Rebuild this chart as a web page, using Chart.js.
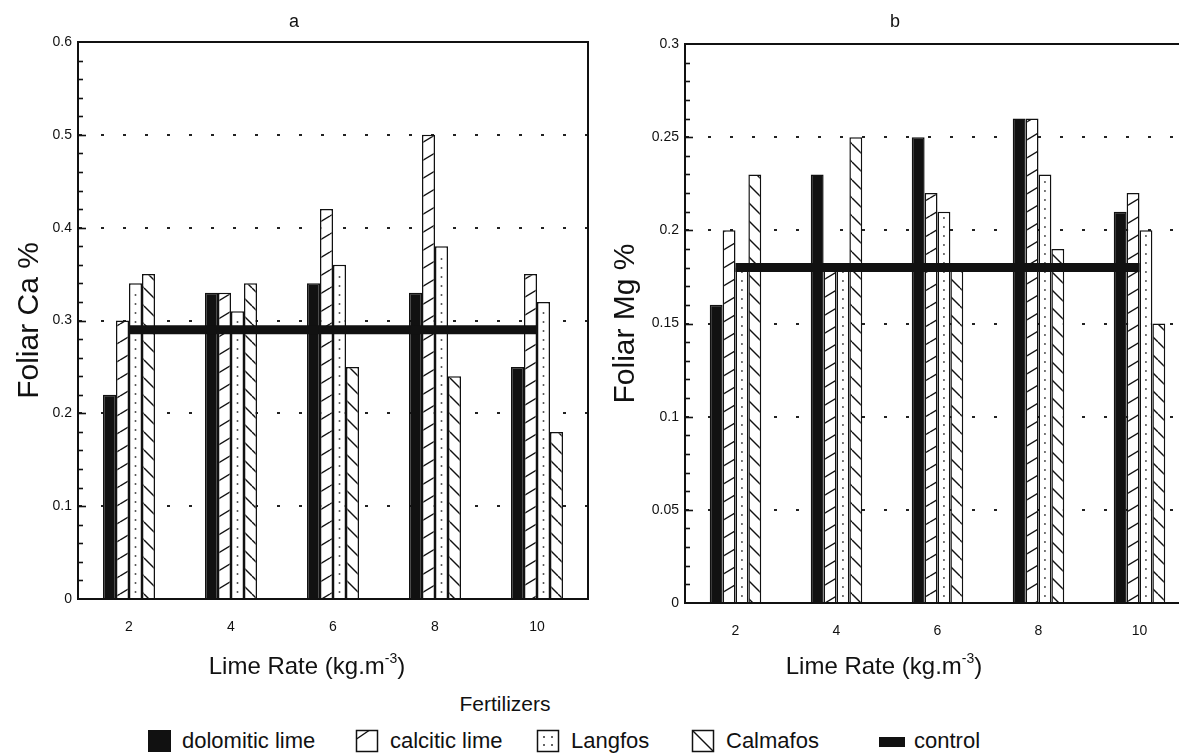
<!DOCTYPE html>
<html>
<head>
<meta charset="utf-8">
<title>Foliar Ca and Mg by lime rate</title>
<script src="https://cdn.jsdelivr.net/npm/chart.js"></script>
<style>
  body { margin: 0; width: 1179px; height: 756px; overflow: hidden; background: #fff; position: relative;
         font-family: "Liberation Sans", Arial, sans-serif; color: #111; }
  canvas.chart { position: absolute; top: 0; }
  #chartCa { left: 0; }
  #chartMg { left: 600px; }
  #legendTitle { position: absolute; top: 692px; left: 440px; width: 130px; text-align: center; font-size: 21px; }
  .item { position: absolute; top: 728px; display: flex; align-items: center; font-size: 22px; white-space: nowrap; }
  .item canvas { margin-right: 9px; }
  .item:nth-of-type(1) { left: 147px; }
  .item:nth-of-type(2) { left: 355px; }
  .item:nth-of-type(3) { left: 536px; }
  .item:nth-of-type(4) { left: 691px; }
  .item:nth-of-type(5) { left: 879px; }
</style>
</head>
<body>
<canvas id="chartCa" class="chart" width="600" height="690"></canvas>
<canvas id="chartMg" class="chart" width="600" height="690"></canvas>
<div id="legendTitle">Fertilizers</div>
<div id="legend"></div>
<script>
// lime rates (kg/m3) on the x axis
const limeRates = ['2', '4', '6', '8', '10'];

// foliar Ca %
const caDolomitic = [0.22, 0.33, 0.34, 0.33, 0.25];
const caCalcitic = [0.30, 0.33, 0.42, 0.50, 0.35];
const caLangfos = [0.34, 0.31, 0.36, 0.38, 0.32];
const caCalmafos = [0.35, 0.34, 0.25, 0.24, 0.18];
const caControl = 0.29;
const caTicks = [0, 0.1, 0.2, 0.3, 0.4, 0.5, 0.6];

// foliar Mg %
const mgDolomitic = [0.16, 0.23, 0.25, 0.26, 0.21];
const mgCalcitic = [0.20, 0.18, 0.22, 0.26, 0.22];
const mgLangfos = [0.18, 0.18, 0.21, 0.23, 0.20];
const mgCalmafos = [0.23, 0.25, 0.18, 0.19, 0.15];
const mgControl = 0.18;
const mgTicks = [0, 0.05, 0.1, 0.15, 0.2, 0.25, 0.3];

const fertilizers = ['dolomitic lime', 'calcitic lime', 'Langfos', 'Calmafos', 'control'];

const INK = '#111';
const FONT = '"Liberation Sans", Arial, sans-serif';

// diagonal hatch; dir 1 = "/", dir -1 = "\"
function hatch(w, h, dir) {
    const c = document.createElement('canvas');
    c.width = w; c.height = h;
    const g = c.getContext('2d');
    g.fillStyle = '#fff';
    g.fillRect(0, 0, w, h);
    g.strokeStyle = INK;
    g.lineWidth = 1.4;
    for (let k = -1; k <= 1; k++) {
        g.beginPath();
        if (dir > 0) { g.moveTo(0, h + k * h); g.lineTo(w, k * h); }
        else { g.moveTo(0, k * h); g.lineTo(w, h + k * h); }
        g.stroke();
    }
    return g.createPattern(c, 'repeat');
}

const calciticFill = hatch(30, 18, 1);
const calmafosFill = hatch(18, 18, -1);

// dotted column down the middle of each Langfos bar
const langfosDots = {
    id: 'langfosDots',
    afterDatasetDraw(chart, args) {
        if (chart.data.datasets[args.index].label !== 'Langfos') return;
        const ctx = chart.ctx;
        ctx.save();
        ctx.fillStyle = '#333';
        args.meta.data.forEach(bar => {
            const p = bar.getProps(['x', 'y', 'base'], true);
            for (let py = p.base - 6; py > p.y + 4; py -= 9) {
                ctx.fillRect(p.x - 0.8, py - 0.8, 1.6, 1.6);
            }
        });
        ctx.restore();
    }
};

// box frame plus inward major/minor ticks on the value axis
const frame = {
    id: 'frame',
    afterDraw(chart, args, opts) {
        const ctx = chart.ctx, a = chart.chartArea, y = chart.scales.y;
        ctx.save();
        ctx.strokeStyle = INK;
        ctx.lineWidth = 2;
        ctx.beginPath();
        ctx.moveTo(a.left, a.top);
        ctx.lineTo(a.right, a.top);
        ctx.lineTo(a.right, a.bottom);
        ctx.stroke();
        ctx.lineWidth = 1.6;
        const n = Math.round((y.max - y.min) / opts.minorStep);
        for (let i = 1; i < n; i++) {
            const py = Math.round(y.getPixelForValue(y.min + i * opts.minorStep)) + 0.5;
            const len = i % opts.perMajor === 0 ? 8 : 5;
            ctx.beginPath();
            ctx.moveTo(a.left, py);
            ctx.lineTo(a.left + len, py);
            ctx.stroke();
        }
        ctx.restore();
    }
};

// x axis title with a superscript unit
const unitTitle = {
    id: 'unitTitle',
    afterDraw(chart, args, opts) {
        const ctx = chart.ctx;
        const main = 'Lime Rate (kg.m', sup = '-3', end = ')';
        ctx.save();
        ctx.fillStyle = INK;
        ctx.textBaseline = 'alphabetic';
        ctx.textAlign = 'left';
        ctx.font = opts.size + 'px ' + FONT;
        const w1 = ctx.measureText(main).width, w3 = ctx.measureText(end).width;
        ctx.font = Math.round(opts.size * 0.6) + 'px ' + FONT;
        const w2 = ctx.measureText(sup).width;
        let x = opts.x - (w1 + w2 + w3) / 2;
        ctx.font = opts.size + 'px ' + FONT;
        ctx.fillText(main, x, opts.y);
        x += w1;
        ctx.font = Math.round(opts.size * 0.6) + 'px ' + FONT;
        ctx.fillText(sup, x, opts.y - opts.size * 0.45);
        x += w2;
        ctx.font = opts.size + 'px ' + FONT;
        ctx.fillText(end, x, opts.y);
        ctx.restore();
    }
};

function makeChart(id, cfg) {
    const ticks = cfg.ticks;
    const bar = (label, data, fill) => ({
        type: 'bar', label, data,
        backgroundColor: fill, borderColor: INK, borderWidth: 1.5,
        categoryPercentage: 0.51, barPercentage: 1, order: 1
    });
    return new Chart(document.getElementById(id), {
        data: {
            labels: limeRates,
            datasets: [
                bar('dolomitic lime', cfg.series[0], INK),
                bar('calcitic lime', cfg.series[1], calciticFill),
                bar('Langfos', cfg.series[2], '#fff'),
                bar('Calmafos', cfg.series[3], calmafosFill),
                {
                    type: 'line', label: 'control',
                    data: limeRates.map(() => cfg.control),
                    borderColor: INK, borderWidth: 9, borderCapStyle: 'butt',
                    pointRadius: 0, order: 0
                }
            ]
        },
        options: {
            responsive: false,
            animation: false,
            events: [],
            layout: { padding: { left: 0, right: cfg.padRight, top: 0, bottom: 0 } },
            scales: {
                x: {
                    afterFit: s => { s.height = cfg.xHeight; },
                    grid: { display: false },
                    border: { display: true, color: INK, width: 2 },
                    ticks: { color: INK, font: { family: FONT, size: 14 }, padding: 12 }
                },
                y: {
                    min: 0, max: ticks[ticks.length - 1],
                    afterFit: s => { s.width = cfg.yWidth; },
                    afterBuildTicks: s => { s.ticks = ticks.map(v => ({ value: v })); },
                    grid: {
                        drawTicks: false, lineWidth: 2,
                        color: c => (c.index === 0 || c.index === ticks.length - 1) ? 'rgba(0,0,0,0)' : '#222'
                    },
                    border: { display: true, color: INK, width: 2, dash: [3, 19] },
                    ticks: { color: INK, font: { family: FONT, size: 14 }, padding: 6, callback: v => String(v) },
                    title: {
                        display: true, text: cfg.yTitle, color: INK,
                        font: { family: FONT, size: 30 }, padding: { top: cfg.yTitlePad, bottom: 0 }
                    }
                }
            },
            plugins: {
                legend: { display: false },
                tooltip: { enabled: false },
                title: {
                    display: true, text: cfg.letter, color: INK,
                    font: { family: FONT, size: 18, weight: 'normal' },
                    padding: { top: 11, bottom: cfg.top - 32.6 }
                },
                frame: { minorStep: cfg.minorStep, perMajor: cfg.perMajor },
                unitTitle: { x: cfg.xTitleX, y: 674, size: 24 }
            }
        },
        plugins: [langfosDots, frame, unitTitle]
    });
}

makeChart('chartCa', {
    series: [caDolomitic, caCalcitic, caLangfos, caCalmafos], control: caControl,
    ticks: caTicks, minorStep: 0.02, perMajor: 5,
    letter: 'a', yTitle: 'Foliar Ca %', yTitlePad: 12,
    top: 42, xHeight: 91, yWidth: 78, padRight: 12, xTitleX: 307
});

makeChart('chartMg', {
    series: [mgDolomitic, mgCalcitic, mgLangfos, mgCalmafos], control: mgControl,
    ticks: mgTicks, minorStep: 0.01, perMajor: 5,
    letter: 'b', yTitle: 'Foliar Mg %', yTitlePad: 8,
    top: 44, xHeight: 87, yWidth: 85, padRight: 10, xTitleX: 284
});

// shared legend below both panels
const legend = document.getElementById('legend');
fertilizers.forEach(name => {
    const item = document.createElement('div');
    item.className = 'item';
    const sw = document.createElement('canvas');
    sw.width = 26; sw.height = 24;
    const g = sw.getContext('2d');
    g.strokeStyle = INK; g.fillStyle = INK; g.lineWidth = 1.5;
    if (name === 'control') {
        g.fillRect(0, 8, 26, 10);
    } else if (name === 'dolomitic lime') {
        g.fillRect(1, 1, 23, 22);
    } else {
        g.strokeRect(1.5, 1.5, 21, 21);
        g.beginPath();
        if (name === 'calcitic lime') { g.moveTo(1.5, 10); g.lineTo(14, 1.5); }
        if (name === 'Calmafos') { g.moveTo(1.5, 1.5); g.lineTo(22.5, 22.5); }
        g.stroke();
        if (name === 'Langfos') {
            [[8, 8], [16, 8], [8, 16], [16, 16]].forEach(d => g.fillRect(d[0] - 0.8, d[1] - 0.8, 1.6, 1.6));
        }
    }
    const label = document.createElement('span');
    label.textContent = name;
    item.appendChild(sw);
    item.appendChild(label);
    legend.appendChild(item);
});
</script>
</body>
</html>
